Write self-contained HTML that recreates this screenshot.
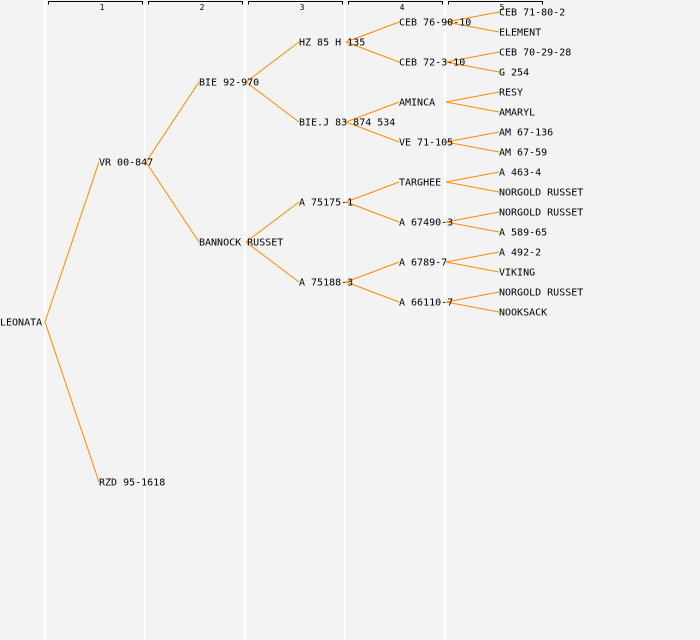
<!DOCTYPE html>
<html><head><style>
html,body{margin:0;padding:0;background:#f3f3f3;}
svg{display:block;}
text{font-family:"DejaVu Sans Mono","Liberation Mono",monospace;font-size:10px;fill:#000;}
.n{font-size:8px;}
</style></head><body>
<svg width="700" height="640" xmlns="http://www.w3.org/2000/svg">
<rect width="700" height="640" fill="#f3f3f3"/>
<g stroke="#ffffff" stroke-width="2">
<line x1="45" y1="0" x2="45" y2="640"/><line x1="145" y1="0" x2="145" y2="640"/><line x1="245" y1="0" x2="245" y2="640"/><line x1="345" y1="0" x2="345" y2="640"/><line x1="445" y1="0" x2="445" y2="640"/>
</g>
<g stroke="#000" stroke-width="1" fill="none">
<path d="M48.5,4.5V1.5H142.5V4.5"/><path d="M148.5,4.5V1.5H242.5V4.5"/><path d="M248.5,4.5V1.5H342.5V4.5"/><path d="M348.5,4.5V1.5H442.5V4.5"/><path d="M448.5,4.5V1.5H542.5V4.5"/>
</g>
<g class="n" text-anchor="middle"><text class="n" x="102" y="10">1</text><text class="n" x="202" y="10">2</text><text class="n" x="302" y="10">3</text><text class="n" x="402" y="10">4</text><text class="n" x="502" y="10">5</text></g>
<g stroke="#ff8c00" stroke-width="1" fill="none">
<path d="M45,322L99,162M45,322L99,482"/>
<path d="M146,162L199,82M146,162L199,242"/>
<path d="M246,82L299,42M246,82L299,122M246,242L299,202M246,242L299,282"/>
<path d="M346,42L399,22M346,42L399,62M346,122L399,102M346,122L399,142M346,202L399,182M346,202L399,222M346,282L399,262M346,282L399,302"/>
<path d="M446,22L499,12M446,22L499,32M446,62L499,52M446,62L499,72M446,102L499,92M446,102L499,112M446,142L499,132M446,142L499,152M446,182L499,172M446,182L499,192M446,222L499,212M446,222L499,232M446,262L499,252M446,262L499,272M446,302L499,292M446,302L499,312"/>
</g>
<g dominant-baseline="central" transform="translate(0,1)">
<text x="0" y="322">LEONATA</text>
<text x="99" y="162">VR 00-847</text><text x="99" y="482">RZD 95-1618</text>
<text x="199" y="82">BIE 92-970</text><text x="199" y="242">BANNOCK RUSSET</text>
<text x="299" y="42">HZ 85 H 135</text><text x="299" y="122">BIE.J 83 874 534</text><text x="299" y="202">A 75175-1</text><text x="299" y="282">A 75188-3</text>
<text x="399" y="22">CEB 76-90-10</text><text x="399" y="62">CEB 72-3-10</text><text x="399" y="102">AMINCA</text><text x="399" y="142">VE 71-105</text><text x="399" y="182">TARGHEE</text><text x="399" y="222">A 67490-3</text><text x="399" y="262">A 6789-7</text><text x="399" y="302">A 66110-7</text>
<text x="499" y="12">CEB 71-80-2</text><text x="499" y="32">ELEMENT</text><text x="499" y="52">CEB 70-29-28</text><text x="499" y="72">G 254</text><text x="499" y="92">RESY</text><text x="499" y="112">AMARYL</text><text x="499" y="132">AM 67-136</text><text x="499" y="152">AM 67-59</text><text x="499" y="172">A 463-4</text><text x="499" y="192">NORGOLD RUSSET</text><text x="499" y="212">NORGOLD RUSSET</text><text x="499" y="232">A 589-65</text><text x="499" y="252">A 492-2</text><text x="499" y="272">VIKING</text><text x="499" y="292">NORGOLD RUSSET</text><text x="499" y="312">NOOKSACK</text>
</g>
</svg>
</body></html>
